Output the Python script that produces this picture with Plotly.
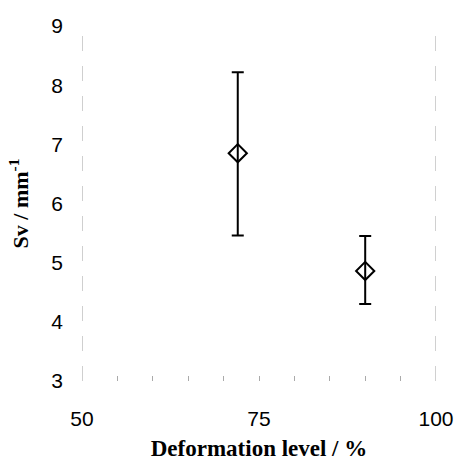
import plotly.graph_objects as go

deformation = [72, 90]
sv = [6.85, 4.86]
err_plus = [1.37, 0.59]
err_minus = [1.39, 0.56]

x_ticks = [50, 75, 100]
y_ticks = [3, 4, 5, 6, 7, 8, 9]

fig = go.Figure()
fig.add_trace(go.Scatter(
    x=deformation, y=sv, mode="markers",
    marker=dict(symbol="diamond-open", size=14, color="black", line=dict(width=2, color="black")),
    error_y=dict(type="data", symmetric=False, array=err_plus, arrayminus=err_minus,
                 color="black", thickness=2, width=6),
    showlegend=False,
))

# left and right frame lines (dashed grey)
for xv in [50, 100]:
    fig.add_shape(type="line", xref="x", yref="y", x0=xv, x1=xv, y0=3, y1=9,
                  line=dict(color="#a0a0a0", width=1, dash="longdash"))

fig.update_layout(
    width=462, height=461,
    margin=dict(l=82, r=26, t=26, b=80),
    paper_bgcolor="white", plot_bgcolor="white",
    xaxis=dict(range=[50, 100], tickvals=x_ticks, showgrid=False, zeroline=False, automargin=False,
               showline=False, ticks="inside", ticklen=5, tickcolor="#aaaaaa",
               minor=dict(dtick=5, ticks="inside", ticklen=5, tickcolor="#aaaaaa", showgrid=False),
               ticklabelstandoff=23,
               tickfont=dict(family="Liberation Sans, Arial", size=21, color="black"),
               title=dict(text="Deformation level / %", standoff=12,
                          font=dict(family="Liberation Serif, Times New Roman", size=23, color="black", weight="bold"))),
    yaxis=dict(range=[3, 9], tickvals=y_ticks, showgrid=False, zeroline=False, automargin=False,
               showline=False, ticks="", ticklabelstandoff=18,
               tickfont=dict(family="Liberation Sans, Arial", size=21, color="black"),
               title=dict(text="Sv / mm<sup>-1</sup>", standoff=16,
                          font=dict(family="Liberation Serif, Times New Roman", size=22, color="black", weight="bold"))),
)

fig.write_html("out.html")
